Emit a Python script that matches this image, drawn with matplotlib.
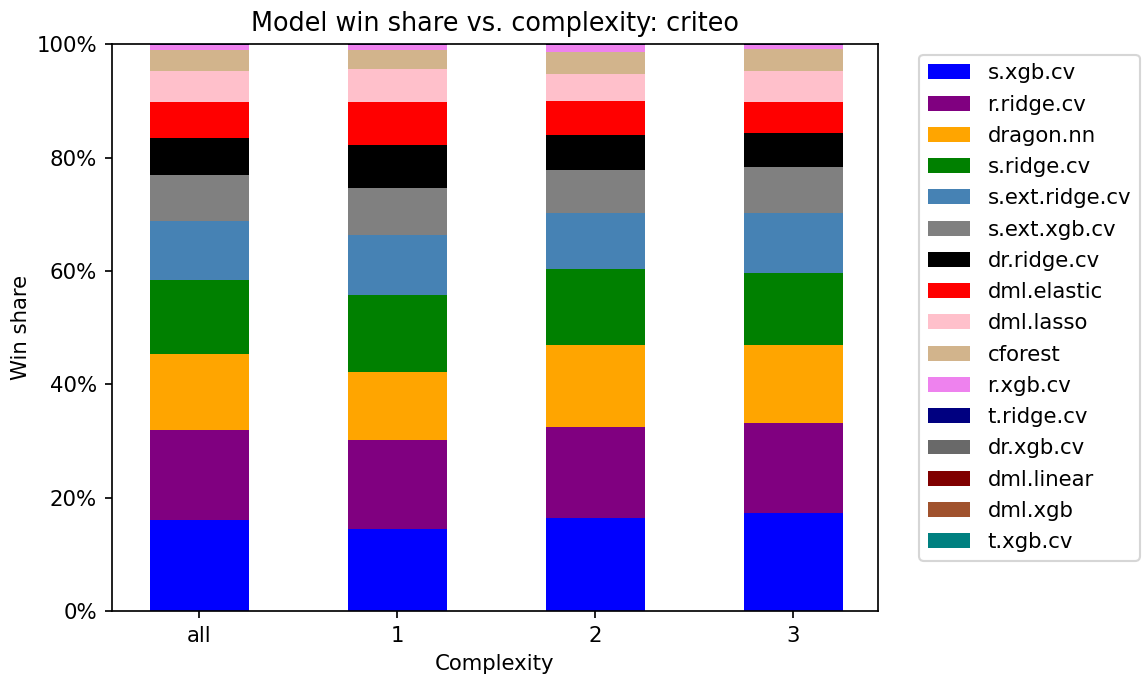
import numpy as np
import matplotlib
matplotlib.use("Agg")
import matplotlib.pyplot as plt
from matplotlib.ticker import PercentFormatter

# complexity groups on the x axis
groups = ["all", "1", "2", "3"]

# win share (%) per model, one value per group
models = ["s.xgb.cv", "r.ridge.cv", "dragon.nn", "s.ridge.cv", "s.ext.ridge.cv",
          "s.ext.xgb.cv", "dr.ridge.cv", "dml.elastic", "dml.lasso", "cforest",
          "r.xgb.cv", "t.ridge.cv", "dr.xgb.cv", "dml.linear", "dml.xgb", "t.xgb.cv"]
s_xgb_cv = [16.05, 14.5, 16.4, 17.3]
r_ridge_cv = [15.85, 15.7, 16.1, 15.9]
dragon_nn = [13.4, 12.0, 14.4, 13.7]
s_ridge_cv = [13.1, 13.5, 13.4, 12.7]
s_ext_ridge_cv = [10.4, 10.6, 9.9, 10.6]
s_ext_xgb_cv = [8.1, 8.3, 7.6, 8.1]
dr_ridge_cv = [6.5, 7.6, 6.1, 6.0]
dml_elastic = [6.4, 7.6, 6.0, 5.5]
dml_lasso = [5.4, 5.8, 4.8, 5.4]
cforest = [3.7, 3.3, 3.9, 3.9]
r_xgb_cv = [1.0, 1.0, 1.3, 0.8]
t_ridge_cv = [0.1, 0.1, 0.1, 0.1]
dr_xgb_cv = [0.0, 0.0, 0.0, 0.0]
dml_linear = [0.0, 0.0, 0.0, 0.0]
dml_xgb = [0.0, 0.0, 0.0, 0.0]
t_xgb_cv = [0.0, 0.0, 0.0, 0.0]

shares = [s_xgb_cv, r_ridge_cv, dragon_nn, s_ridge_cv, s_ext_ridge_cv, s_ext_xgb_cv,
          dr_ridge_cv, dml_elastic, dml_lasso, cforest, r_xgb_cv, t_ridge_cv,
          dr_xgb_cv, dml_linear, dml_xgb, t_xgb_cv]
colors = ["blue", "purple", "orange", "green", "steelblue", "gray", "black", "red",
          "pink", "tan", "violet", "navy", "dimgray", "maroon", "sienna", "teal"]

DPI = 153
fig = plt.figure(figsize=(1142 / DPI, 679 / DPI), dpi=DPI)
ax = fig.add_axes([0.098, 0.100, 0.671, 0.835])

x = np.arange(len(groups))
bottom = np.zeros(len(groups))
for name, vals, c in zip(models, shares, colors):
    vals = np.array(vals) / 100.0
    ax.bar(x, vals, width=0.5, bottom=bottom, color=c, label=name)
    bottom += vals

ax.set_xticks(x)
ax.set_xticklabels(groups)
ax.set_xlim(-0.44, 3.43)
ax.set_ylim(0, 1)
ax.yaxis.set_major_formatter(PercentFormatter(1.0, decimals=0))
ax.set_xlabel("Complexity")
ax.set_ylabel("Win share", labelpad=2.5)
ax.set_title("Model win share vs. complexity: criteo")
ax.legend(bbox_to_anchor=(1.04, 1), loc="upper left", labelspacing=0.53)

fig.savefig("out.png", dpi=DPI)
